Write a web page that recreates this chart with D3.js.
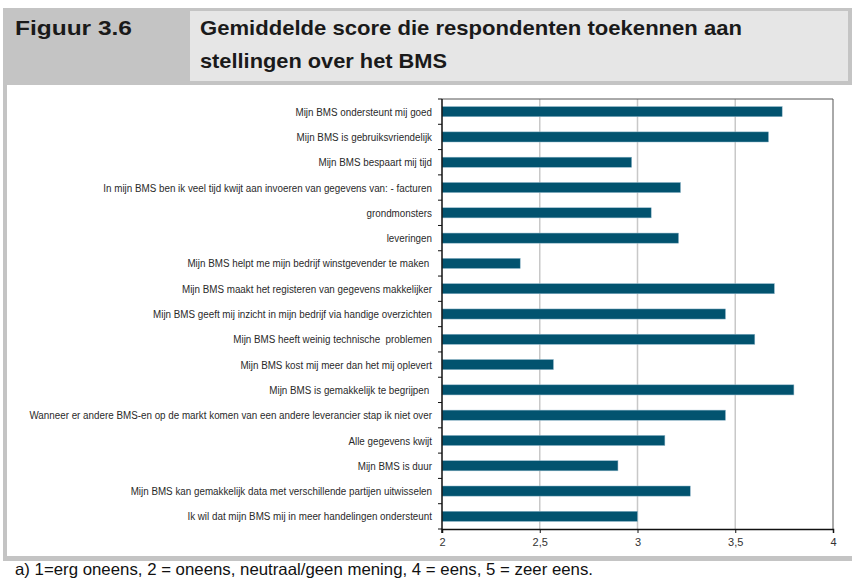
<!DOCTYPE html>
<html>
<head>
<meta charset="utf-8">
<script src="https://cdn.jsdelivr.net/npm/d3@7"></script>
<style>
  body { margin: 0; background: #fff; }
  svg { display: block; }
  .lbl { white-space: pre; }
</style>
</head>
<body>
<div id="chart"></div>
<script>
/****** DATA ******/
var statements = [
  "Mijn BMS ondersteunt mij goed",
  "Mijn BMS is gebruiksvriendelijk",
  "Mijn BMS bespaart mij tijd",
  "In mijn BMS ben ik veel tijd kwijt aan invoeren van gegevens van: - facturen",
  "grondmonsters",
  "leveringen",
  "Mijn BMS helpt me mijn bedrijf winstgevender te maken ",
  "Mijn BMS maakt het registeren van gegevens makkelijker",
  "Mijn BMS geeft mij inzicht in mijn bedrijf via handige overzichten",
  "Mijn BMS heeft weinig technische  problemen",
  "Mijn BMS kost mij meer dan het mij oplevert",
  "Mijn BMS is gemakkelijk te begrijpen ",
  "Wanneer er andere BMS-en op de markt komen van een andere leverancier stap ik niet over",
  "Alle gegevens kwijt",
  "Mijn BMS is duur",
  "Mijn BMS kan gemakkelijk data met verschillende partijen uitwisselen",
  "Ik wil dat mijn BMS mij in meer handelingen ondersteunt"
];
var scores = [3.74, 3.67, 2.97, 3.22, 3.07, 3.21, 2.40, 3.70, 3.45, 3.60,
              2.57, 3.80, 3.45, 3.14, 2.90, 3.27, 3.00];
var tickValues = [2, 2.5, 3, 3.5, 4];
var tickLabels = ["2", "2,5", "3", "3,5", "4"];

var figureNo = "Figuur 3.6";
var titleLines = ["Gemiddelde score die respondenten toekennen aan",
                  "stellingen over het BMS"];
var footnote = "a) 1=erg oneens, 2 = oneens, neutraal/geen mening, 4 = eens, 5 = zeer eens.";

var W = 852, H = 585;
var plot = {left: 442, right: 833, top: 99, bottom: 529};
var barColor = "#02536f";

var svg = d3.select("#chart").append("svg")
  .attr("width", W).attr("height", H);

/****** FRAME & HEADER ******/
svg.append("rect").attr("x", 3).attr("y", 8).attr("width", W - 3).attr("height", 77)
  .attr("fill", "#c4c4c4");
svg.append("rect").attr("x", 190).attr("y", 11).attr("width", 658).attr("height", 70)
  .attr("fill", "#e6e6e6");
svg.append("rect").attr("x", 3).attr("y", 85).attr("width", 4).attr("height", 471)
  .attr("fill", "#c4c4c4");
svg.append("rect").attr("x", 3).attr("y", 556).attr("width", W - 3).attr("height", 5)
  .attr("fill", "#c4c4c4");

svg.append("text")
  .attr("x", 15).attr("y", 35)
  .attr("textLength", 117).attr("lengthAdjust", "spacingAndGlyphs")
  .style("font-family", "'Liberation Sans', sans-serif")
  .style("font-weight", "bold").style("font-size", "21px").style("fill", "#1a1a1a")
  .text(figureNo);

var titleWidths = [542, 247];
titleLines.forEach(function(t, i) {
  svg.append("text")
    .attr("x", 200).attr("y", 35 + i * 33)
    .attr("textLength", titleWidths[i]).attr("lengthAdjust", "spacingAndGlyphs")
    .style("font-family", "'Liberation Sans', sans-serif")
    .style("font-weight", "bold").style("font-size", "21px").style("fill", "#1a1a1a")
    .text(t);
});

svg.append("text")
  .attr("x", 15).attr("y", 575)
  .attr("textLength", 578).attr("lengthAdjust", "spacingAndGlyphs")
  .style("font-family", "'Liberation Sans', sans-serif")
  .style("font-size", "16.5px").style("fill", "#111")
  .text(footnote);

/****** SCALES ******/
var x = d3.scaleLinear().domain([2, 4]).range([plot.left, plot.right]);
var y = d3.scaleBand().domain(d3.range(statements.length))
  .range([plot.top, plot.bottom]).paddingInner(0.6).paddingOuter(0.3);
var step = y.step();

// gridlines
svg.append("g").selectAll("line")
  .data(tickValues.slice(1, -1)).enter().append("line")
  .attr("x1", function(d) { return x(d); }).attr("x2", function(d) { return x(d); })
  .attr("y1", plot.top).attr("y2", plot.bottom)
  .attr("stroke", "#c8c8c8").attr("stroke-width", 1.5);

// plot border (top/right)
svg.append("path")
  .attr("d", "M" + plot.left + "," + plot.top + "H" + plot.right + "V" + plot.bottom)
  .attr("fill", "none").attr("stroke", "#555").attr("stroke-width", 1);

/****** BARS ******/
svg.append("g").selectAll("rect")
  .data(scores).enter().append("rect")
  .attr("x", x(2))
  .attr("y", function(d, i) { return y(i); })
  .attr("width", function(d) { return x(d) - x(2); })
  .attr("height", y.bandwidth())
  .attr("fill", barColor)
  .attr("stroke", "#8fb6c9").attr("stroke-width", 0.5);

/****** AXES ******/
var xAxis = d3.axisBottom(x).tickValues(tickValues).tickSize(4)
  .tickFormat(function(d, i) { return tickLabels[i]; });
var gx = svg.append("g").attr("transform", "translate(0," + plot.bottom + ")").call(xAxis);
gx.select(".domain").attr("stroke", "#111").attr("stroke-width", 1.5);
gx.selectAll(".tick line").attr("stroke", "#111");
gx.selectAll(".tick text")
  .attr("y", 9)
  .style("font-family", "'Liberation Sans', sans-serif")
  .style("font-size", "11px").style("fill", "#333");

// y axis line with ticks at band boundaries
var bounds = d3.range(statements.length + 1).map(function(i) { return plot.top + i * step; });
svg.append("line")
  .attr("x1", plot.left).attr("x2", plot.left)
  .attr("y1", plot.top).attr("y2", plot.bottom + 4)
  .attr("stroke", "#111").attr("stroke-width", 1.5);
svg.append("g").selectAll("line")
  .data(bounds).enter().append("line")
  .attr("x1", plot.left - 4).attr("x2", plot.left)
  .attr("y1", function(d) { return d; }).attr("y2", function(d) { return d; })
  .attr("stroke", "#111").attr("stroke-width", 1);

// category labels, squeezed horizontally so the longest one spans ~403px
var labels = svg.append("g").selectAll("text")
  .data(statements).enter().append("text")
  .attr("class", "lbl")
  .attr("x", 0).attr("y", 0)
  .attr("dy", "0.35em")
  .attr("text-anchor", "end")
  .style("font-family", "'Liberation Sans', sans-serif")
  .style("font-size", "11.5px").style("fill", "#2a2a2a")
  .text(function(d) { return d; });

var maxW = d3.max(labels.nodes(), function(n) { return n.getComputedTextLength(); });
var k = 403 / maxW;
labels.attr("transform", function(d, i) {
  return "translate(432," + (y(i) + y.bandwidth() / 2) + ") scale(" + k + ",1)";
});
</script>
</body>
</html>
